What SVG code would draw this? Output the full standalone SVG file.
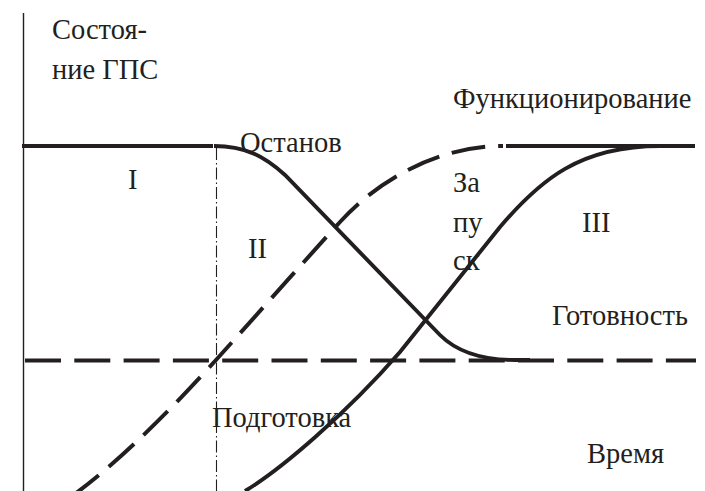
<svg xmlns="http://www.w3.org/2000/svg" width="705" height="491" viewBox="0 0 705 491">
<style>
.t{font-family:'Liberation Serif','DejaVu Serif',serif;font-size:28.5px;fill:#231f20}
.ln{fill:none;stroke:#231f20;stroke-linecap:butt}
.solid{stroke-width:3.9}
.dash{stroke-width:4;stroke-dasharray:36 13.3}
.dcurve{stroke-width:4;stroke-dasharray:34 13}
</style>
<rect width="705" height="491" fill="#fff"/>
<g id="axes">
<line class="ln" x1="23.5" y1="13" x2="23.5" y2="491" stroke-width="1.4"/>
<line class="ln" x1="216.5" y1="148" x2="216.5" y2="491" stroke-width="1.1" stroke-dasharray="12 3 1.5 3"/>
</g>
<g id="curves">
<path id="level-top" class="ln solid" d="M22,146 H213"/>
<path id="level-ready" class="ln dash" d="M25,360.5 H696"/>
<path id="curve-stop" class="ln solid" d="M214,146 C245,146 264,156 285,175 L440,335 C458,353 485,360 515,360 L530,360"/>
<path id="curve-prep" class="ln dcurve" d="M72,496 C120,462 180,400 216,360 C252,320 300,266 340,222 C380,178 440,146 503,146"/>
<path id="level-work" class="ln solid" d="M506,146 H695"/>
<path id="curve-start" class="ln solid" d="M245,491 C280,470 345,415 400,352 L500,227 C540,180 580,146 660,146"/>
</g>
<g id="labels" font-family="Liberation Serif, DejaVu Serif, serif" font-size="28.5" fill="#231f20">
<text class="t" x="52" y="39">Состоя-</text>
<text class="t" x="52" y="79">ние ГПС</text>
<text class="t" x="453" y="108">Функционирование</text>
<text class="t" x="240" y="152">Останов</text>
<text class="t" x="128" y="189">I</text>
<text class="t" x="248" y="258">II</text>
<text class="t" x="582" y="232">III</text>
<text class="t" x="453" y="192">За</text>
<text class="t" x="453" y="232">пу</text>
<text class="t" x="453" y="270">ск</text>
<text class="t" x="552" y="325">Готовность</text>
<text class="t" x="212" y="427">Подготовка</text>
<text class="t" x="587" y="463">Время</text>
</g>
</svg>
